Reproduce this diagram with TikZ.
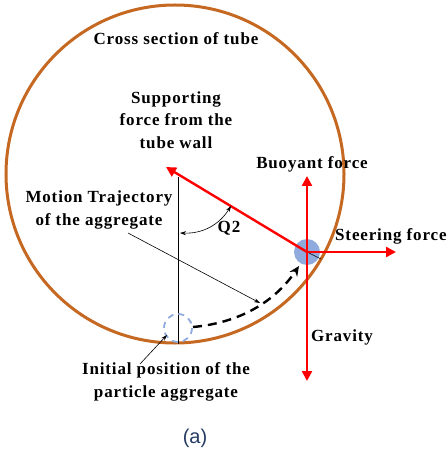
\documentclass[tikz,border=0pt]{standalone}
\usepackage{fontspec}
\setmainfont{Liberation Serif}[LetterSpace=5]
\newfontfamily\capfont{Liberation Sans}
\usetikzlibrary{arrows.meta}
\definecolor{tubebrown}{RGB}{196,104,34}
\definecolor{partblue}{RGB}{143,170,220}
\definecolor{capblue}{RGB}{38,60,100}
\begin{document}
\begin{tikzpicture}[x=1pt, y=-1pt,
    force/.style={red, line width=2.4pt, -{Triangle[length=10pt,width=10pt]}},
    lbl/.style={font=\fontsize{17}{22.5}\selectfont\bfseries, align=center, inner sep=1pt},
    thin/.style={black, line width=0.6pt, -{Stealth[length=6pt,width=4pt]}}]
        \useasboundingbox (0,0) rectangle (447,454);

        % Tube wall
        \draw[tubebrown, line width=3pt] (175,174) circle (169);
        \node[lbl] (title) at (176,39) {Cross section of tube};

        % Vertical reference line
        \coordinate (vtop) at (178,177);
        \coordinate (vbot) at (178,344);
        \draw[black, line width=0.6pt] (vtop) -- (vbot);

        % Particle and forces
        \coordinate (P) at (307,252);
        \coordinate (supp) at (166,167);
        \coordinate (up) at (307,176);
        \coordinate (down) at (307,381);
        \coordinate (right) at (396,252);
        \coordinate (wall) at (321,259);
        \fill[partblue] (P) circle (13);
        \draw[black, line width=0.5pt] (P) -- (wall);
        \draw[force] (P) -- (supp);
        \draw[force] (P) -- (up);
        \draw[force] (P) -- (down);
        \draw[force] (P) -- (right);

        % Initial position and trajectory
        \coordinate (P0) at (178,328);
        \draw[partblue, line width=1.8pt, dash pattern=on 6pt off 5pt] (P0) circle (14);
        \coordinate (trs) at (193,327);
        \coordinate (tre) at (299,266);
        \draw[black, line width=2.4pt, dash pattern=on 9pt off 6pt, -{Stealth[length=10pt,width=9pt]}]
            (trs) .. controls (238,323) and (274,303) .. (tre);

        % Angle Q2
        \coordinate (qa) at (180,233);
        \coordinate (qb) at (231,206);
        \draw[thin, {Stealth[length=6pt,width=4pt]}-{Stealth[length=6pt,width=4pt]}]
            (qa) to[bend right=30] (qb);
        \node[lbl] (q2) at (229,228) {Q2};

        % Labels
        \node[lbl] (support) at (176,120) {Supporting\\force from the\\tube wall};
        \node[lbl] (buoy) at (312,164) {Buoyant force};
        \node[lbl, anchor=west] (steer) at (334,236) {Steering force};
        \node[lbl] (grav) at (342,337) {Gravity};
        \node[lbl] (motion) at (99,210) {Motion Trajectory\\of the aggregate};
        \node[lbl] (init) at (166,382) {Initial position of the\\particle aggregate};

        \coordinate (mt) at (260,303);
        \draw[thin] (128,233) -- (mt);
        \coordinate (ip) at (167,335);
        \draw[thin] (140,364) -- (ip);

        \node[font=\capfont\fontsize{20}{22}\selectfont, text=capblue] (cap) at (195,438) {(a)};
\end{tikzpicture}
\end{document}
